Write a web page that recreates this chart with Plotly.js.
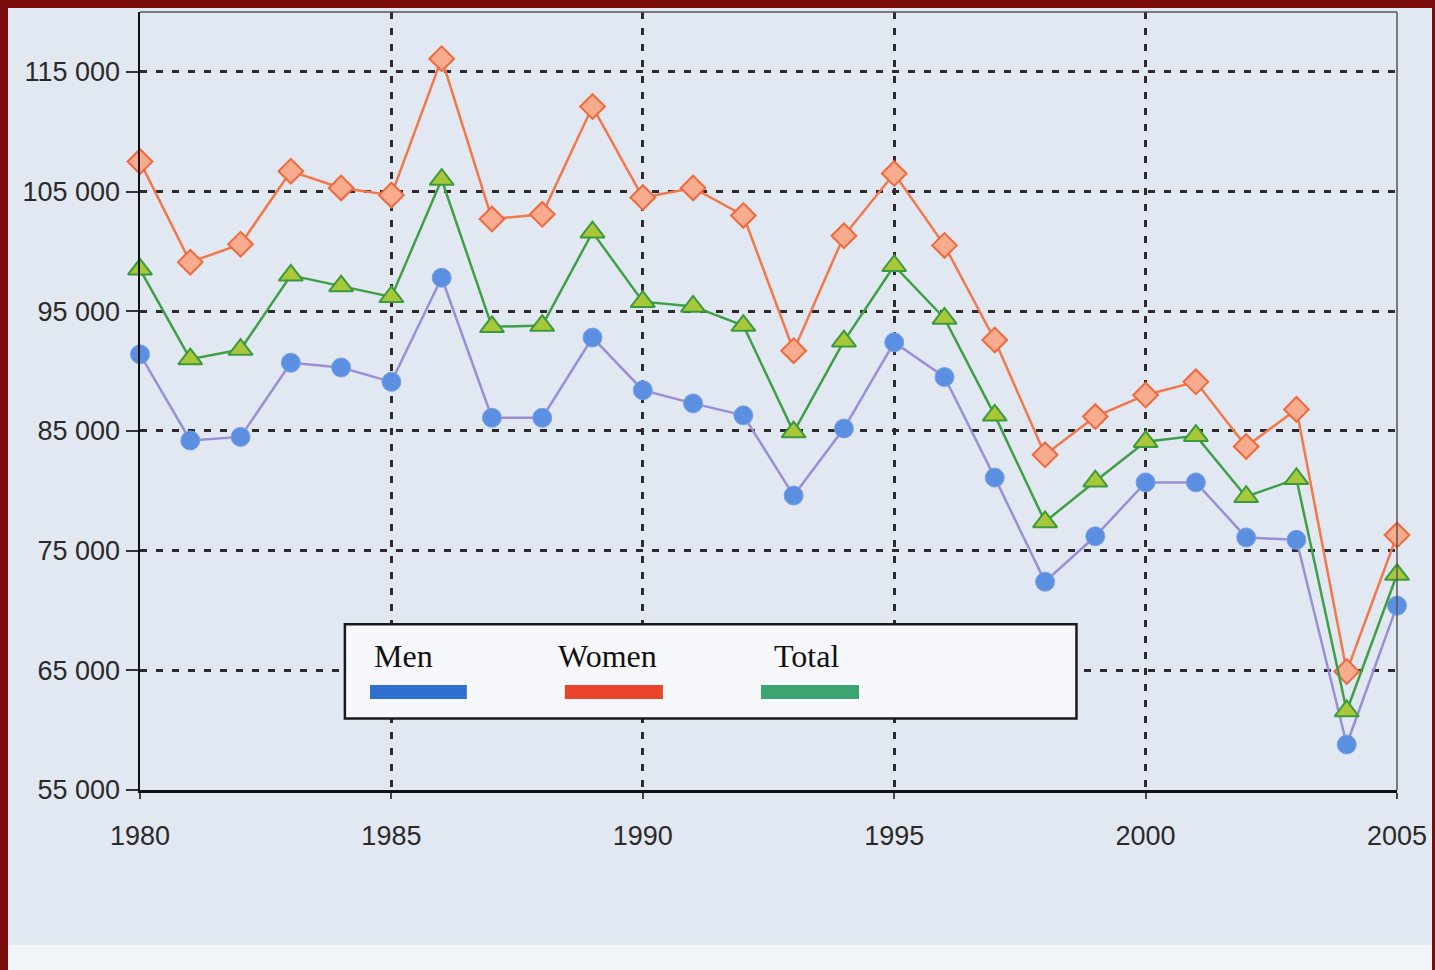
<!DOCTYPE html>
<html>
<head>
<meta charset="utf-8">
<script src="https://cdn.plot.ly/plotly-3.0.1.min.js"></script>
<style>
  html, body { margin: 0; padding: 0; width: 1435px; height: 970px; overflow: hidden; background: #7a0b0b; }
  #chart { position: absolute; left: 8px; top: 8px; width: 1424px; height: 962px;
           background: linear-gradient(to bottom, #e2e8f1 0px, #e2e8f1 937px, #f1f4f9 937px, #f1f4f9 962px); }
</style>
</head>
<body>
<div id="chart"></div>
<script>
// ---- data ----
const years = [1980,1981,1982,1983,1984,1985,1986,1987,1988,1989,1990,1991,1992,1993,1994,1995,1996,1997,1998,1999,2000,2001,2002,2003,2004,2005];
const men   = [91400,84200,84500,90700,90300,89100,97800,86100,86100,92800,88400,87300,86300,79600,85200,92400,89500,81100,72400,76200,80700,80700,76100,75900,58800,70400];
const women = [107500,99100,100600,106700,105300,104700,116100,102700,103100,112100,104500,105300,103000,91700,101300,106500,100500,92600,83000,86200,88000,89100,83700,86800,64900,76300];
const total = [98500,91000,91800,98000,97100,96200,106000,93700,93800,101600,95800,95400,93800,84900,92500,98800,94400,86300,77400,80800,84100,84600,79500,81000,61600,73000];
const seriesNames = ["Men","Women","Total"];
const yTickVals = [55000,65000,75000,85000,95000,105000,115000];
const yTickText = ["55 000","65 000","75 000","85 000","95 000","105 000","115 000"];
const xTickVals = [1980,1985,1990,1995,2000,2005];
const xTickText = ["1980","1985","1990","1995","2000","2005"];

const traces = [
  { x: years, y: men, name: seriesNames[0], mode: "lines+markers", cliponaxis: false,
    line: { color: "#9a8ed4", width: 2.5 },
    marker: { symbol: "circle", size: 19, color: "#5b8fe2", line: { color: "#7aa0e6", width: 1 } } },
  { x: years, y: women, name: seriesNames[1], mode: "lines+markers", cliponaxis: false,
    line: { color: "#f2784b", width: 2.5 },
    marker: { symbol: "diamond", size: 19, color: "#f9ab8e", line: { color: "#ee6a3e", width: 2 } } },
  { x: years, y: total, name: seriesNames[2], mode: "lines+markers", cliponaxis: false,
    line: { color: "#3f9f48", width: 2.5 },
    marker: { symbol: "triangle-up", size: 21, color: "#a8c83a", line: { color: "#3c9a3e", width: 2 } } }
];

// legend drawn as boxed annotations (text above colored bars)
const legColors = ["#2f6fd0", "#e8452c", "#3aa570"];
const legTextX = [0.210, 0.372, 0.530];
const legBar = [[0.183, 0.260], [0.338, 0.416], [0.494, 0.572]];
const shapes = [
  { type: "rect", xref: "paper", yref: "paper", x0: 0.163, x1: 0.745, y0: 0.092, y1: 0.213,
    fillcolor: "#f7f8fb", line: { color: "#1a1a1a", width: 2.5 }, layer: "above" },
  { type: "line", xref: "paper", yref: "paper", x0: 0, x1: 1, y0: 1, y1: 1, line: { color: "#555", width: 1.5 } },
  { type: "line", xref: "paper", yref: "paper", x0: 1, x1: 1, y0: 0, y1: 1, line: { color: "#555", width: 1.5 } }
];
const annotations = [];
for (let i = 0; i < seriesNames.length; i++) {
  shapes.push({ type: "rect", xref: "paper", yref: "paper", x0: legBar[i][0], x1: legBar[i][1],
    y0: 0.117, y1: 0.135, fillcolor: legColors[i], line: { width: 0 }, layer: "above" });
  annotations.push({ xref: "paper", yref: "paper", x: legTextX[i], y: 0.172, text: seriesNames[i],
    showarrow: false, xanchor: "center", yanchor: "middle",
    font: { family: "Liberation Serif, Times New Roman, serif", size: 32, color: "#111" } });
}

const layout = {
  width: 1424, height: 962,
  margin: { l: 132, r: 35, t: 4, b: 180 },
  paper_bgcolor: "rgba(0,0,0,0)",
  plot_bgcolor: "rgba(0,0,0,0)",
  showlegend: false,
  xaxis: {
    range: [1980, 2005], tickvals: xTickVals, ticktext: xTickText,
    showgrid: true, gridcolor: "#2e2a2e", gridwidth: 3, griddash: "7px,9px",
    showline: true, linecolor: "#111", linewidth: 2.5,
    ticks: "outside", ticklen: 6, tickcolor: "#444", tickwidth: 2,
    ticklabelstandoff: 14,
    zeroline: false,
    tickfont: { family: "Liberation Sans, Arial, sans-serif", size: 27, color: "#2a2a2a" }
  },
  yaxis: {
    range: [55000, 120000], tickvals: yTickVals, ticktext: yTickText,
    showgrid: true, gridcolor: "#2e2a2e", gridwidth: 3, griddash: "7px,9px",
    showline: true, linecolor: "#111", linewidth: 2.5,
    ticks: "outside", ticklen: 12, tickcolor: "#333", tickwidth: 2,
    zeroline: false,
    tickfont: { family: "Liberation Sans, Arial, sans-serif", size: 27, color: "#2a2a2a" }
  },
  shapes: shapes,
  annotations: annotations
};

Plotly.newPlot("chart", traces, layout, { displayModeBar: false, staticPlot: true });
</script>
</body>
</html>
